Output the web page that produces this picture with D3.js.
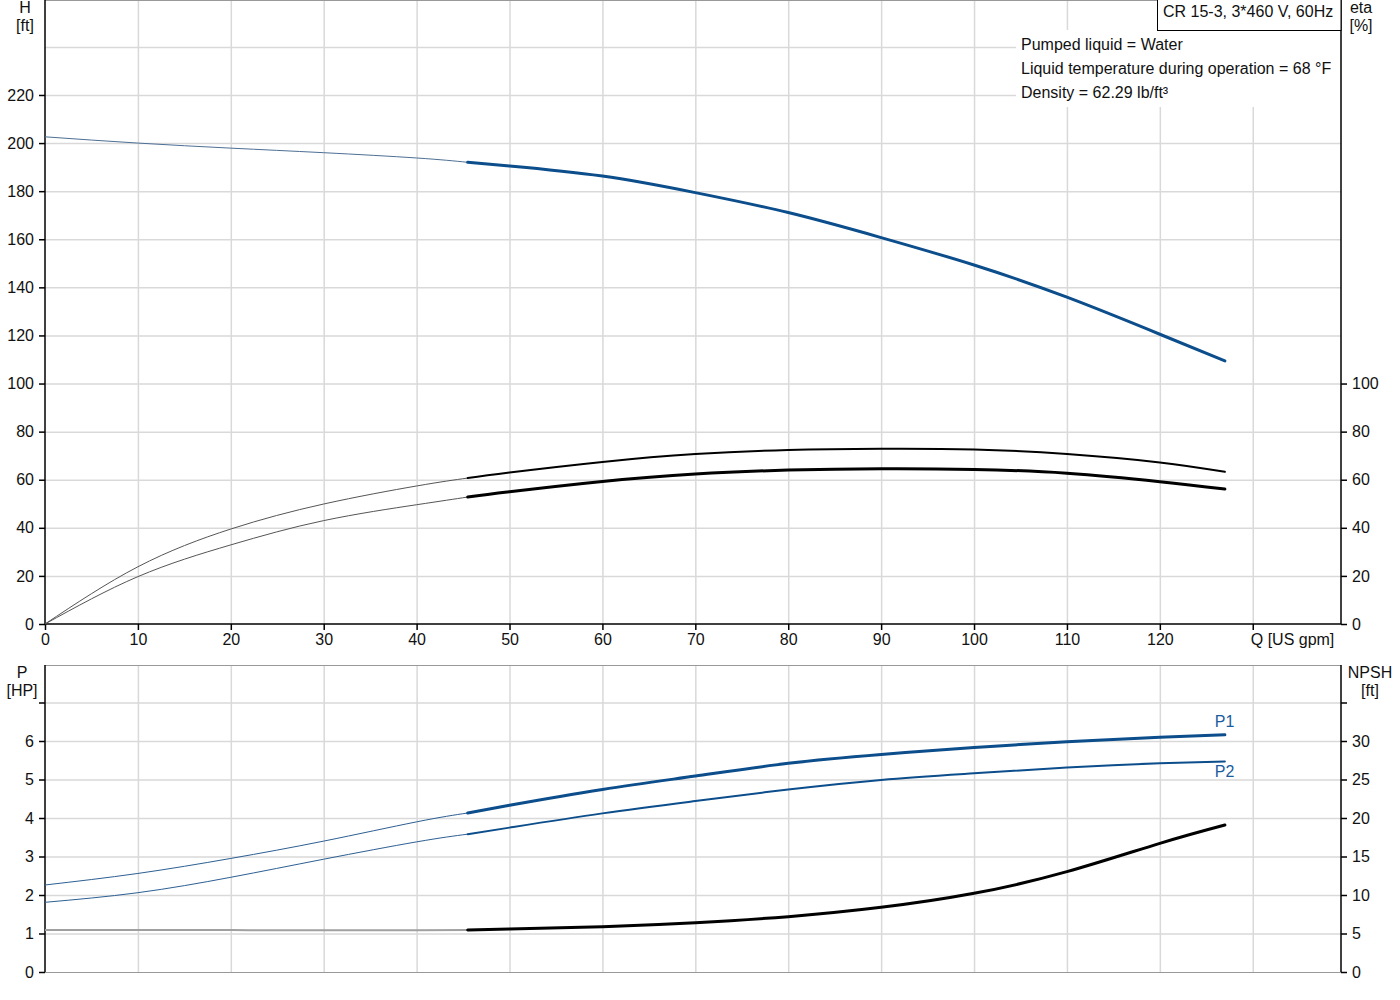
<!DOCTYPE html>
<html>
<head>
<meta charset="utf-8">
<script src="https://cdn.jsdelivr.net/npm/d3@7"></script>
<style>
  body { margin: 0; background: #fff; }
  text { font-family: "Liberation Sans", Arial, sans-serif; font-size: 16px; fill: #111; }
</style>
</head>
<body>
<script>
// flow points (US gpm) shared by all curves
var flow = [0, 10, 20, 30, 40, 45.5, 50, 60, 70, 80, 90, 100, 110, 120, 127];
var head = [202.6, 200.0, 197.9, 196.0, 193.8, 192.0, 190.5, 186.3, 179.4, 171.1, 160.7, 149.3, 135.9, 120.5, 109.4];
var etaPump = [0, 23.8, 39.5, 49.9, 57.4, 60.7, 63.0, 67.4, 70.7, 72.4, 72.9, 72.6, 70.7, 67.2, 63.3];
var etaTotal = [0, 19.7, 32.9, 43.0, 49.6, 52.8, 55.0, 59.3, 62.4, 64.0, 64.6, 64.3, 62.7, 59.2, 56.1];
var powerP1 = [2.26, 2.56, 2.95, 3.40, 3.90, 4.13, 4.33, 4.74, 5.09, 5.42, 5.65, 5.83, 5.98, 6.10, 6.16];
var powerP2 = [1.81, 2.06, 2.46, 2.93, 3.38, 3.58, 3.75, 4.12, 4.44, 4.74, 4.99, 5.16, 5.31, 5.42, 5.47];
var npsh = [5.45, 5.45, 5.44, 5.43, 5.43, 5.45, 5.58, 5.89, 6.40, 7.19, 8.40, 10.22, 13.03, 16.71, 19.09];
var opStart = 45.5;

var qTicks = [0, 10, 20, 30, 40, 50, 60, 70, 80, 90, 100, 110, 120, 130];
var hTicks = [0, 20, 40, 60, 80, 100, 120, 140, 160, 180, 200, 220, 240];
var etaTicks = [0, 20, 40, 60, 80, 100];
var pTicks = [0, 1, 2, 3, 4, 5, 6, 7];
var npshTicks = [0, 5, 10, 15, 20, 25, 30, 35];

var infoLines = ["Pumped liquid = Water", "Liquid temperature during operation = 68 °F", "Density = 62.29 lb/ft³"];
var title = "CR 15-3, 3*460 V, 60Hz";

var blue = "#0c4d8b", gridColor = "#d9d9d9";

var svg = d3.select('body').append('svg')
    .attr('width', 1400)
    .attr('height', 1000);

var left = 45, right = 1341;
var x = d3.scaleLinear().domain([0, 139.5]).range([left, right]);
var yH = d3.scaleLinear().domain([0, 259.5]).range([624, 0]);
var yP = d3.scaleLinear().domain([0, 7.974]).range([972, 665]);
var yN = d3.scaleLinear().domain([0, 39.87]).range([972, 665]);

function styleAxis(g) {
    g.select('.domain').remove();
    g.selectAll('line').attr('stroke', '#000').attr('stroke-width', 1.5);
    g.selectAll('text').attr('font-size', 16).attr('fill', '#111')
        .attr('font-family', '"Liberation Sans", Arial, sans-serif');
}

function styleGrid(g) {
    g.select('.domain').remove();
    g.selectAll('line').attr('stroke', gridColor).attr('stroke-width', 1.5);
}

// ---------- grids ----------
svg.append('g').attr('transform', 'translate(0,624)')
    .call(d3.axisBottom(x).tickValues(qTicks.slice(1)).tickSize(-624).tickFormat(''))
    .call(styleGrid);
svg.append('g').attr('transform', 'translate(' + left + ',0)')
    .call(d3.axisLeft(yH).tickValues(hTicks.slice(1)).tickSize(-(right - left)).tickFormat(''))
    .call(styleGrid);

svg.append('g').attr('transform', 'translate(0,972)')
    .call(d3.axisBottom(x).tickValues(qTicks.slice(1)).tickSize(-307).tickFormat(''))
    .call(styleGrid);
svg.append('g').attr('transform', 'translate(' + left + ',0)')
    .call(d3.axisLeft(yP).tickValues(pTicks.slice(1)).tickSize(-(right - left)).tickFormat(''))
    .call(styleGrid);

// white panel behind the info text
svg.append('rect').attr('x', 1016).attr('y', 30).attr('width', right - 1016).attr('height', 77).attr('fill', '#fff');

// ---------- frames ----------
svg.append('line').attr('x1', left).attr('x2', right).attr('y1', 0.5).attr('y2', 0.5).attr('stroke', '#999');
svg.append('line').attr('x1', left).attr('x2', right).attr('y1', 665.5).attr('y2', 665.5).attr('stroke', '#999');
svg.append('line').attr('x1', left).attr('x2', right).attr('y1', 972.5).attr('y2', 972.5).attr('stroke', '#999');
svg.append('line').attr('x1', left).attr('x2', right).attr('y1', 624).attr('y2', 624).attr('stroke', '#000').attr('stroke-width', 1.5);
[0, 665].forEach(function(top) {
    var bottom = top === 0 ? 624 : 972;
    svg.append('line').attr('x1', left).attr('x2', left).attr('y1', top).attr('y2', bottom).attr('stroke', '#000').attr('stroke-width', 1.5);
    svg.append('line').attr('x1', right).attr('x2', right).attr('y1', top).attr('y2', bottom).attr('stroke', '#000').attr('stroke-width', 1.5);
});

// ---------- axes ----------
svg.append('g').attr('transform', 'translate(' + left + ',0)')
    .call(d3.axisLeft(yH).tickValues(hTicks.slice(0, -1)).tickSize(6).tickPadding(5).tickSizeOuter(0))
    .call(styleAxis);
svg.append('g').attr('transform', 'translate(' + right + ',0)')
    .call(d3.axisRight(yH).tickValues(etaTicks).tickSize(6).tickPadding(5).tickSizeOuter(0))
    .call(styleAxis);
svg.append('g').attr('transform', 'translate(0,624)')
    .call(d3.axisBottom(x).tickValues(qTicks).tickSize(6).tickPadding(4).tickSizeOuter(0)
        .tickFormat(function(d) { return d <= 120 ? d : ''; }))
    .call(styleAxis);
svg.append('g').attr('transform', 'translate(' + left + ',0)')
    .call(d3.axisLeft(yP).tickValues(pTicks).tickSize(6).tickPadding(5).tickSizeOuter(0)
        .tickFormat(function(d) { return d < 7 ? d : ''; }))
    .call(styleAxis);
svg.append('g').attr('transform', 'translate(' + right + ',0)')
    .call(d3.axisRight(yN).tickValues(npshTicks).tickSize(6).tickPadding(5).tickSizeOuter(0)
        .tickFormat(function(d) { return d < 35 ? d : ''; }))
    .call(styleAxis);

svg.append('text').attr('x', x(130) - 2).attr('y', 645).text('Q [US gpm]');

// axis titles
function unitLabel(cx, y1, a, b) {
    svg.append('text').attr('x', cx).attr('y', y1).attr('text-anchor', 'middle').text(a);
    svg.append('text').attr('x', cx).attr('y', y1 + 18).attr('text-anchor', 'middle').text(b);
}
unitLabel(25, 13, 'H', '[ft]');
unitLabel(1361, 13, 'eta', '[%]');
unitLabel(22, 678, 'P', '[HP]');
unitLabel(1370, 678, 'NPSH', '[ft]');

// title box
svg.append('rect').attr('x', 1157.5).attr('y', -1).attr('width', right - 1157.5).attr('height', 31.5)
    .attr('fill', '#fff').attr('stroke', '#000').attr('stroke-width', 1);
svg.append('text').attr('x', 1163).attr('y', 17).text(title);

svg.selectAll('.info').data(infoLines).enter().append('text')
    .attr('class', 'info')
    .attr('x', 1021)
    .attr('y', function(d, i) { return 50 + i * 24; })
    .text(function(d) { return d; });

// ---------- curves ----------
function drawCurve(values, yScale, thin, thick) {
    var pts = flow.map(function(q, i) { return [q, values[i]]; });
    var line = d3.line()
        .x(function(d) { return x(d[0]); })
        .y(function(d) { return yScale(d[1]); })
        .curve(d3.curveNatural);
    svg.append('path').datum(pts.filter(function(d) { return d[0] <= opStart; }))
        .attr('d', line).attr('fill', 'none')
        .attr('stroke', thin.color).attr('stroke-width', thin.width);
    svg.append('path').datum(pts.filter(function(d) { return d[0] >= opStart; }))
        .attr('d', line).attr('fill', 'none')
        .attr('stroke', thick.color).attr('stroke-width', thick.width).attr('stroke-linecap', 'round');
}

drawCurve(head, yH, { color: '#4d6f94', width: 1 }, { color: blue, width: 3 });
drawCurve(etaPump, yH, { color: '#555', width: 1 }, { color: '#000', width: 2 });
drawCurve(etaTotal, yH, { color: '#555', width: 1 }, { color: '#000', width: 3 });
drawCurve(powerP1, yP, { color: '#2d5f93', width: 1 }, { color: blue, width: 3 });
drawCurve(powerP2, yP, { color: '#2d5f93', width: 1 }, { color: blue, width: 2 });
drawCurve(npsh, yN, { color: '#a0a0a0', width: 2 }, { color: '#000', width: 3 });

var last = flow.length - 1;
svg.append('text').attr('x', x(flow[last]) - 10).attr('y', yP(powerP1[last]) - 8).style('fill', '#1a5c9e').text('P1');
svg.append('text').attr('x', x(flow[last]) - 10).attr('y', yP(powerP2[last]) + 16).style('fill', '#1a5c9e').text('P2');
</script>
</body>
</html>
